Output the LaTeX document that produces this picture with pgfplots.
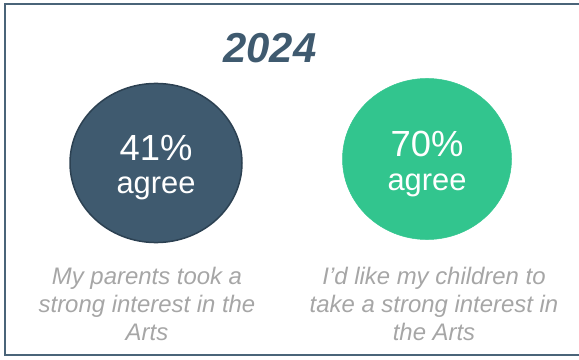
\documentclass[border=0pt]{standalone}
\usepackage{pgfplots}
\pgfplotsset{compat=1.18}
\usepackage{fontspec}
\setmainfont{Liberation Sans}

\definecolor{slate}{HTML}{3F5A6F}
\definecolor{slatedark}{HTML}{2C4152}
\definecolor{framecol}{HTML}{4A6479}
\definecolor{mint}{HTML}{32C58E}
\definecolor{captiongray}{HTML}{A6A6A6}

\begin{document}
\begin{tikzpicture}
\begin{axis}[
  width=579bp, height=360bp, scale only axis,
  xmin=0, xmax=579, ymin=0, ymax=360, y dir=reverse,
  axis lines=none, clip=false, set layers,
  point meta=explicit,
  /pgf/number format/assume math mode=true,
  nodes near coords={\pgfmathprintnumber{\pgfplotspointmeta}\%},
  every node near coord/.append style={anchor=base, yshift=3bp,
    text=white, font=\fontsize{36.5}{36.5}\selectfont},
]
% outer frame (open on the right)
\draw[framecol, line width=2.2bp]
  (axis cs:585,4) -- (axis cs:5,4) -- (axis cs:5,355) -- (axis cs:585,355);

% headline
\node[anchor=base, text=slate, font=\fontsize{42}{42}\selectfont\bfseries\itshape]
  at (axis cs:270,62) {2024};

% share agreeing with each statement
\addplot[only marks, mark=*, mark size=86bp,
  mark options={fill=slate, draw=slatedark, line width=1.5bp, yscale=0.925}]
  coordinates {(156,163) [41]};
\addplot[only marks, mark=*, mark size=84.5bp,
  mark options={fill=mint, draw=mint, line width=0.5bp, yscale=0.953}]
  coordinates {(427,159) [70]};

\begin{pgfonlayer}{axis foreground}
\node[anchor=base, text=white, font=\fontsize{31}{31}\selectfont]
  at (axis cs:156,193) {agree};
\node[anchor=base, text=white, font=\fontsize{31}{31}\selectfont]
  at (axis cs:427,190) {agree};
\end{pgfonlayer}

% statements
\node[anchor=north, align=center, inner sep=0pt, text=captiongray,
  font=\fontsize{24}{28}\selectfont\itshape]
  at (axis cs:147,267) {My parents took a\\strong interest in the\\Arts};
\node[anchor=north, align=center, inner sep=0pt, text=captiongray,
  font=\fontsize{24}{28}\selectfont\itshape]
  at (axis cs:434,267) {I’d like my children to\\take a strong interest in\\the Arts};
\end{axis}
\pgfresetboundingbox
\path[use as bounding box] (0,0) rectangle (579bp,360bp);
\end{tikzpicture}
\end{document}
